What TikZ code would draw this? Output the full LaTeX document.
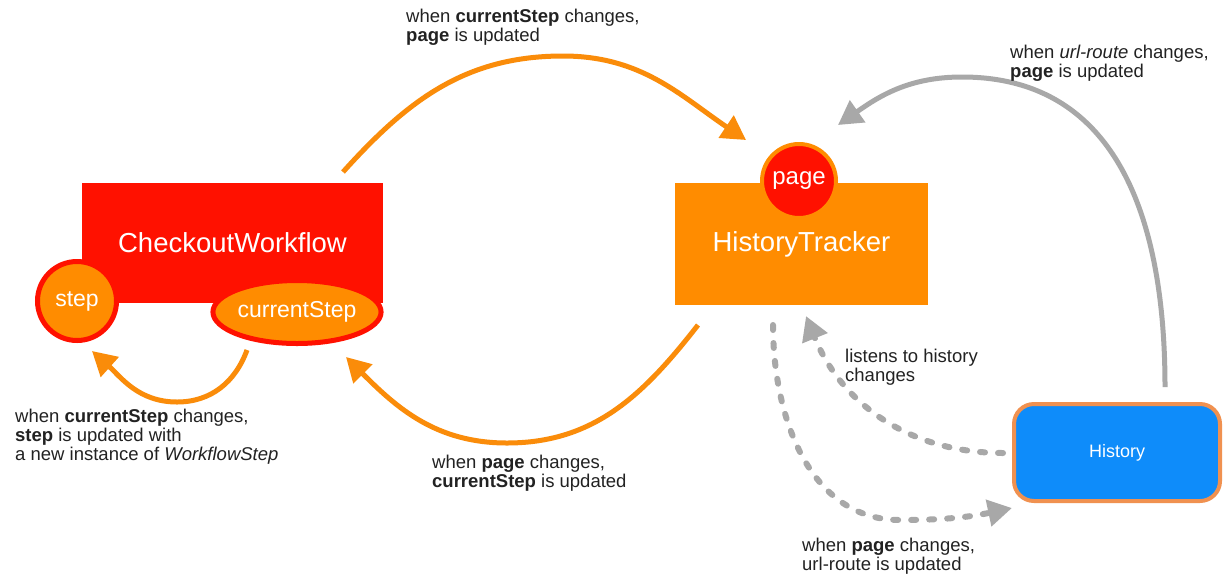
\documentclass[tikz,border=0pt]{standalone}
\usepackage{fontspec}
\setmainfont{Liberation Sans}
\usetikzlibrary{arrows.meta,shapes.geometric}
\definecolor{cwred}{RGB}{255,17,0}
\definecolor{htorange}{RGB}{255,140,0}
\definecolor{arrorange}{RGB}{250,140,10}
\definecolor{arrgray}{RGB}{168,168,168}
\definecolor{histblue}{RGB}{14,140,250}
\definecolor{histborder}{RGB}{240,145,80}
\definecolor{lbltext}{RGB}{34,34,34}
\begin{document}
\begin{tikzpicture}[x=1pt,y=-1pt,
  cwbox/.style={fill=cwred, minimum width=301pt, minimum height=120pt, inner sep=0pt, text=white, font=\fontsize{27.5}{30}\selectfont},
  htbox/.style={fill=htorange, minimum width=253pt, minimum height=122pt, inner sep=0pt, text=white, font=\fontsize{27.5}{30}\selectfont},
  stepcirc/.style={circle, fill=htorange, draw=cwred, line width=5pt, minimum size=79pt, inner sep=0pt, text=white, font=\fontsize{23}{26}\selectfont},
  curellipse/.style={ellipse, fill=htorange, draw=cwred, line width=5pt, minimum width=153pt, minimum height=63pt, inner sep=0pt, text=white, font=\fontsize{23}{26}\selectfont},
  pagecirc/.style={circle, fill=cwred, draw=htorange, line width=4pt, minimum size=74pt, inner sep=0pt, text=white, font=\fontsize{24}{26}\selectfont},
  histbox/.style={rectangle, rounded corners=20pt, fill=histblue, draw=histborder, line width=4pt, minimum width=206pt, minimum height=97pt, inner sep=0pt, text=white, font=\fontsize{18}{20}\selectfont},
  lbl/.style={anchor=north west, inner sep=0pt, align=left, text=lbltext, font=\fontsize{18.5}{19}\selectfont},
  oarrow/.style={draw=arrorange, line width=5pt, -{Triangle[length=24pt,width=26pt]}},
  garrow/.style={draw=arrgray, line width=5pt, -{Triangle[length=24pt,width=26pt]}},
  gdash/.style={draw=arrgray, line width=6pt, line cap=round, dash pattern=on 5pt off 13pt, -{Triangle[length=24pt,width=26pt]}}
]
\useasboundingbox (0,0) rectangle (1225,582);
\fill[white] (0,0) rectangle (1225,582);

% components
\node[cwbox] (cw) at (232.5,243) {CheckoutWorkflow};
\node[stepcirc] (step) at (77,301) {step};
\node[curellipse] (cur) at (297,312) {currentStep};
\node[htbox] (ht) at (801.5,244) {HistoryTracker};
\node[pagecirc] (page) at (799,181) {page};
\node[histbox] (hist) at (1117,452.5) {History};

% connector end points
\coordinate (a1s) at (343,172);
\coordinate (a1p) at (563,56);
\coordinate (a1e) at (746,140);
\coordinate (a2s) at (698,325);
\coordinate (a2b) at (507,443);
\coordinate (a2e) at (346,357);
\coordinate (a3s) at (247,350);
\coordinate (a3b) at (177,402);
\coordinate (a3e) at (92,351);
\coordinate (g1s) at (1165,387);
\coordinate (g1p) at (962,77);
\coordinate (g1e) at (838,125);
\coordinate (d1s) at (1003,453);
\coordinate (d1e) at (806,316);
\coordinate (d2s) at (773,325);
\coordinate (d2m) at (900,520);
\coordinate (d2e) at (1012,508);

% connectors
\draw[oarrow] (a1s) to[out=48,in=180] (a1p) to[out=0,in=146] (a1e);
\draw[oarrow] (a2s) to[out=-128,in=0] (a2b) to[out=180,in=-45] (a2e);
\draw[oarrow] (a3s) to[out=-110,in=0] (a3b) to[out=180,in=-42] (a3e);
\draw[garrow] (g1s) to[out=90,in=0,looseness=1.1] (g1p) to[out=180,in=35] (g1e);
\draw[gdash] (d1s) to[out=180,in=-68] (d1e);
\draw[gdash] (d2s) to[out=-90,in=180] (d2m) to[out=0,in=192] (d2e);

% labels
\node[lbl] (l1) at (406,9) {when \textbf{currentStep} changes,\\\textbf{page} is updated};
\node[lbl] (l2) at (1010,45) {when \textit{url-route} changes,\\\textbf{page} is updated};
\node[lbl] (l3) at (845,349) {listens to history\\changes};
\node[lbl] (l4) at (802,538) {when \textbf{page} changes,\\url-route is updated};
\node[lbl] (l5) at (432,455) {when \textbf{page} changes,\\\textbf{currentStep} is updated};
\node[lbl] (l6) at (15,409) {when \textbf{currentStep} changes,\\\textbf{step} is updated with\\a new instance of \textit{WorkflowStep}};
\end{tikzpicture}
\end{document}
